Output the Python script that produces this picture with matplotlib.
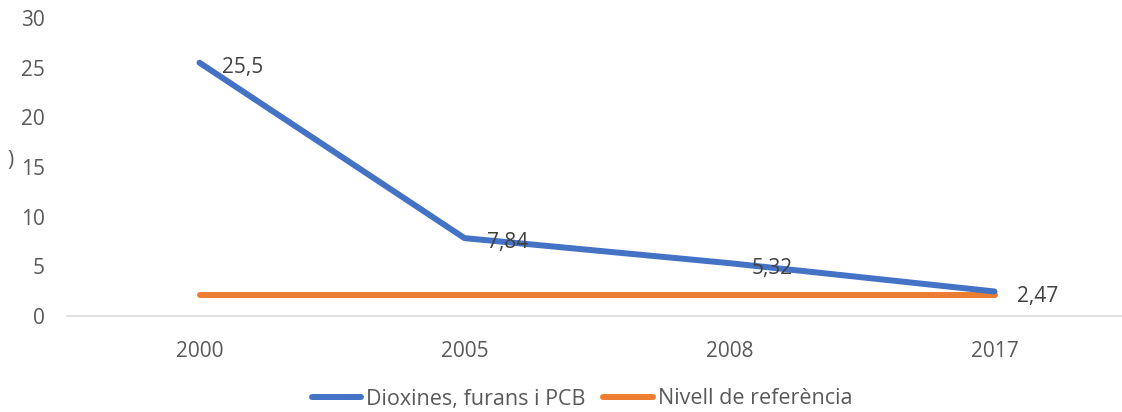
import matplotlib
matplotlib.use("Agg")
import matplotlib.pyplot as plt

years = ["2000", "2005", "2008", "2017"]
dioxines = [25.5, 7.84, 5.32, 2.47]
referencia = [2.1, 2.1, 2.1, 2.1]
labels = ["25,5", "7,84", "5,32", "2,47"]
yticks = [0, 5, 10, 15, 20, 25, 30]

plt.rcParams['font.family'] = ['Open Sans', 'DejaVu Sans']
gray = '#595959'

fig = plt.figure(figsize=(11.22, 4.12), dpi=100)
ax = fig.add_axes([67/1122, 96/412, 1060/1122, (316-18)/412])

x = list(range(len(years)))
ax.plot(x, dioxines, color='#4472C4', lw=4.3, solid_capstyle='round', label='Dioxines, furans i PCB', zorder=3)
ax.plot(x, referencia, color='#ED7D31', lw=4.3, solid_capstyle='round', label='Nivell de referència', zorder=2)

for xi, v, t in zip(x, dioxines, labels):
    ax.annotate(t, (xi, v), xytext=(16, -3.5), textcoords='offset points', ha='left', va='center',
                fontsize=15, color='#404040')

ax.set_xlim(-0.5, 3.5)
ax.set_ylim(0, 30)
ax.set_xticks(x)
ax.set_xticklabels(years)
ax.set_yticks(yticks)
for s in ['top', 'right', 'left']:
    ax.spines[s].set_visible(False)
ax.spines['bottom'].set_color('#d9d9d9')
ax.spines['bottom'].set_linewidth(1.2)
ax.tick_params(axis='both', length=0, colors=gray, labelsize=15)
ax.tick_params(axis='x', pad=18)
ax.tick_params(axis='y', pad=16)

fig.legend(loc='center', bbox_to_anchor=(582/1122, 1 - 399/412), ncol=2, frameon=False,
           fontsize=15.5, labelcolor=gray, handlelength=2.3, handletextpad=0.25, columnspacing=0.8)
fig.text(10/1122, 1 - 160/412, ")", fontsize=15, color=gray, va='center', ha='center')

fig.savefig("out.png", dpi=100)
